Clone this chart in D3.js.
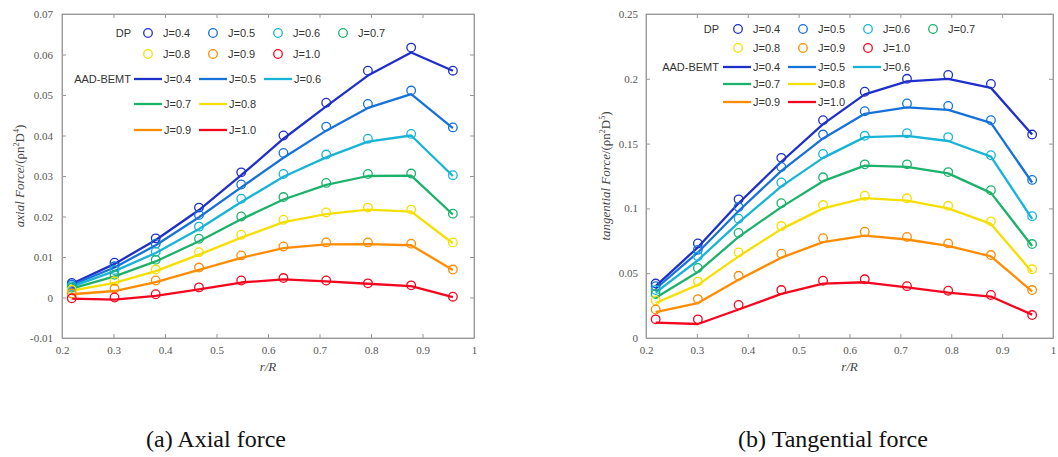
<!DOCTYPE html>
<html>
<head>
<meta charset="utf-8">
<script src="https://cdn.jsdelivr.net/npm/d3@7"></script>
<style>
  body { margin: 0; background: #fff; }
  svg text { font-family: "Liberation Serif", "Times New Roman", serif; }
  .leg text { font-family: "Liberation Sans", Arial, sans-serif; font-size: 11px; fill: #333; }
  .tick text { fill: #555; font-size: 11px; }
</style>
</head>
<body>
<div id="chart"></div>
<script>
// ---- data ----
const rR = [0.219, 0.302, 0.382, 0.466, 0.548, 0.630, 0.713, 0.794, 0.878, 0.959];
const Jlabels = ['J=0.4', 'J=0.5', 'J=0.6', 'J=0.7', 'J=0.8', 'J=0.9', 'J=1.0'];
const colors = ['#1f2fc9', '#1672d9', '#18b4d6', '#1cb26b', '#f5df00', '#ff8c00', '#f5061f'];

// axial force, DP markers
const axDP = [
  [0.0036, 0.0086, 0.0146, 0.0222, 0.0309, 0.0400, 0.0481, 0.0560, 0.0617, 0.0560],
  [0.0032, 0.0077, 0.0133, 0.0204, 0.0279, 0.0357, 0.0422, 0.0478, 0.0511, 0.0420],
  [0.0028, 0.0068, 0.0113, 0.0175, 0.0244, 0.0305, 0.0353, 0.0392, 0.0404, 0.0302],
  [0.0024, 0.0056, 0.0093, 0.0145, 0.0200, 0.0248, 0.0283, 0.0305, 0.0306, 0.0207],
  [0.0019, 0.0040, 0.0069, 0.0112, 0.0155, 0.0192, 0.0210, 0.0222, 0.0217, 0.0136],
  [0.0010, 0.0022, 0.0042, 0.0074, 0.0104, 0.0126, 0.0136, 0.0136, 0.0133, 0.0069],
  [-0.0002, 0.0000, 0.0008, 0.0025, 0.0042, 0.0048, 0.0042, 0.0035, 0.0030, 0.0002]
];
// axial force, AAD-BEMT lines
const axBEMT = [
  [0.0034, 0.0083, 0.0142, 0.0216, 0.0302, 0.0392, 0.0472, 0.0548, 0.0605, 0.0560],
  [0.0031, 0.0074, 0.0129, 0.0198, 0.0272, 0.0345, 0.0412, 0.0468, 0.0502, 0.0418],
  [0.0027, 0.0065, 0.0110, 0.0169, 0.0236, 0.0298, 0.0346, 0.0385, 0.0400, 0.0300],
  [0.0022, 0.0052, 0.0089, 0.0139, 0.0193, 0.0242, 0.0278, 0.0300, 0.0301, 0.0205],
  [0.0017, 0.0036, 0.0065, 0.0106, 0.0148, 0.0186, 0.0206, 0.0217, 0.0212, 0.0134],
  [0.0008, 0.0016, 0.0038, 0.0068, 0.0098, 0.0122, 0.0131, 0.0132, 0.0129, 0.0068],
  [-0.0003, -0.0005, 0.0004, 0.0020, 0.0037, 0.0045, 0.0040, 0.0034, 0.0028, 0.0001]
];
// tangential force, DP markers
const tgDP = [
  [0.042, 0.073, 0.107, 0.139, 0.168, 0.190, 0.200, 0.203, 0.196, 0.157],
  [0.040, 0.068, 0.101, 0.132, 0.157, 0.175, 0.181, 0.179, 0.168, 0.122],
  [0.037, 0.063, 0.092, 0.120, 0.142, 0.156, 0.158, 0.155, 0.141, 0.094],
  [0.034, 0.054, 0.081, 0.104, 0.124, 0.134, 0.134, 0.128, 0.114, 0.0725],
  [0.029, 0.0435, 0.066, 0.0864, 0.1026, 0.1098, 0.1078, 0.102, 0.090, 0.053],
  [0.022, 0.030, 0.048, 0.065, 0.077, 0.082, 0.078, 0.073, 0.064, 0.037],
  [0.0144, 0.0144, 0.0255, 0.037, 0.0442, 0.0453, 0.040, 0.0365, 0.0332, 0.0177]
];
// tangential force, AAD-BEMT lines
const tgBEMT = [
  [0.040, 0.070, 0.104, 0.136, 0.165, 0.188, 0.198, 0.200, 0.193, 0.157],
  [0.038, 0.066, 0.098, 0.129, 0.154, 0.173, 0.178, 0.176, 0.166, 0.120],
  [0.035, 0.060, 0.089, 0.117, 0.139, 0.155, 0.156, 0.152, 0.140, 0.092],
  [0.031, 0.051, 0.078, 0.101, 0.121, 0.133, 0.132, 0.127, 0.112, 0.071],
  [0.027, 0.041, 0.063, 0.084, 0.100, 0.108, 0.106, 0.100, 0.088, 0.051],
  [0.020, 0.027, 0.045, 0.062, 0.074, 0.079, 0.076, 0.071, 0.063, 0.036],
  [0.0118, 0.0108, 0.022, 0.034, 0.042, 0.043, 0.039, 0.035, 0.032, 0.018]
];

const xTicks = [0.2, 0.3, 0.4, 0.5, 0.6, 0.7, 0.8, 0.9, 1];
const xTickLabels = ['0.2', '0.3', '0.4', '0.5', '0.6', '0.7', '0.8', '0.9', '1'];
const axYTicks = [-0.01, 0, 0.01, 0.02, 0.03, 0.04, 0.05, 0.06, 0.07];
const axYTickLabels = ['-0.01', '0', '0.01', '0.02', '0.03', '0.04', '0.05', '0.06', '0.07'];
const tgYTicks = [0, 0.05, 0.1, 0.15, 0.2, 0.25];
const tgYTickLabels = ['0', '0.05', '0.1', '0.15', '0.2', '0.25'];

// legend layout: DP markers in rows of 4, AAD-BEMT lines as 3 / 2 / 2
const dpSlots = [[0, 0], [0, 1], [0, 2], [0, 3], [1, 0], [1, 1], [1, 2]];
const bemtSlots = [[2, 0], [2, 1], [2, 2], [3, 0], [3, 1], [4, 0], [4, 1]];

// SVG
var svg = d3.select('#chart')
    .append('svg')
    .attr('width', 1058)
    .attr('height', 457);

svg.append('rect').attr('width', 1058).attr('height', 457).attr('fill', '#fff');

function drawPanel(opt) {
    const g = svg.append('g');
    const xScale = d3.scaleLinear().domain([0.2, 1]).range([opt.x0, opt.x1]);
    const yScale = d3.scaleLinear().domain(opt.yDomain).range([opt.y1, opt.y0]);

    // frame
    g.append('rect')
        .attr('x', opt.x0).attr('y', opt.y0)
        .attr('width', opt.x1 - opt.x0).attr('height', opt.y1 - opt.y0)
        .attr('fill', 'none').attr('stroke', '#aaa').attr('stroke-width', 1);

    const fmtX = d => xTickLabels[xTicks.indexOf(d)];
    const fmtY = d => opt.yLabels[opt.yTicks.indexOf(d)];

    g.append('g').attr('transform', `translate(0, ${opt.y1})`)
        .call(d3.axisBottom(xScale).tickValues(xTicks).tickFormat(fmtX)
            .tickSizeInner(-4).tickSizeOuter(0).tickPadding(8));
    g.append('g').attr('transform', `translate(${opt.x0}, 0)`)
        .call(d3.axisLeft(yScale).tickValues(opt.yTicks).tickFormat(fmtY)
            .tickSizeInner(-4).tickSizeOuter(0).tickPadding(opt.yPad));
    g.append('g').attr('transform', `translate(0, ${opt.y0})`)
        .call(d3.axisTop(xScale).tickValues(xTicks).tickFormat('').tickSizeInner(-4).tickSizeOuter(0));
    g.append('g').attr('transform', `translate(${opt.x1}, 0)`)
        .call(d3.axisRight(yScale).tickValues(opt.yTicks).tickFormat('').tickSizeInner(-4).tickSizeOuter(0));
    g.selectAll('.domain').attr('stroke', '#999');
    g.selectAll('.tick line').attr('stroke', '#999');

    // lines
    const line = d3.line().x((d, i) => xScale(rR[i])).y(d => yScale(d));
    opt.bemt.forEach((s, k) => {
        g.append('path').datum(s)
            .attr('d', line)
            .attr('fill', 'none')
            .attr('stroke', colors[k])
            .attr('stroke-width', 2.3)
            .attr('stroke-linejoin', 'round');
    });
    // markers
    opt.dp.forEach((s, k) => {
        g.selectAll(null).data(s).enter().append('circle')
            .attr('cx', (d, i) => xScale(rR[i]))
            .attr('cy', d => yScale(d))
            .attr('r', 4.3)
            .attr('fill', 'none')
            .attr('stroke', colors[k])
            .attr('stroke-width', 1.3);
    });

    // axis labels
    g.append('text')
        .attr('x', (opt.x0 + opt.x1) / 2).attr('y', opt.y1 + 33)
        .attr('text-anchor', 'middle')
        .style('font-size', '13px').style('font-style', 'italic').style('fill', '#444')
        .text('r/R');

    const yl = g.append('text')
        .attr('transform', `translate(${opt.yLabelX}, ${(opt.y0 + opt.y1) / 2}) rotate(-90)`)
        .attr('text-anchor', 'middle')
        .style('font-size', '13px').style('fill', '#444');
    yl.append('tspan').style('font-style', 'italic').text(opt.yName + ' Force');
    yl.append('tspan').text('/(ρn');
    yl.append('tspan').attr('dy', -5).style('font-size', '8px').text('2');
    yl.append('tspan').attr('dy', 5).text('D');
    yl.append('tspan').attr('dy', -5).style('font-size', '8px').text(opt.pow);
    yl.append('tspan').attr('dy', 5).text(')');

    // legend
    const L = opt.leg;
    const lg = g.append('g').attr('class', 'leg');
    lg.append('text').attr('x', L.labelRight).attr('y', L.rows[0] + 4).attr('text-anchor', 'end').text('DP');
    Jlabels.forEach((lab, k) => {
        const [row, col] = dpSlots[k];
        const cx = L.markCol0 + col * L.colStep;
        lg.append('circle').attr('cx', cx).attr('cy', L.rows[row])
            .attr('r', 4.3).attr('fill', 'none').attr('stroke', colors[k]).attr('stroke-width', 1.3);
        lg.append('text').attr('x', cx + 15).attr('y', L.rows[row] + 4).text(lab);
    });
    lg.append('text').attr('x', L.labelRight).attr('y', L.rows[2] + 4).attr('text-anchor', 'end').text('AAD-BEMT');
    Jlabels.forEach((lab, k) => {
        const [row, col] = bemtSlots[k];
        const lx = L.lineCol0 + col * L.colStep;
        lg.append('line').attr('x1', lx).attr('x2', lx + 28)
            .attr('y1', L.rows[row]).attr('y2', L.rows[row])
            .attr('stroke', colors[k]).attr('stroke-width', 2.3);
        lg.append('text').attr('x', lx + 30).attr('y', L.rows[row] + 4).text(lab);
    });

    // caption
    svg.append('text')
        .attr('x', opt.capX).attr('y', 447)
        .attr('text-anchor', 'middle')
        .style('font-size', '24px').style('fill', '#111')
        .text(opt.caption);
}

drawPanel({
    x0: 62, x1: 474, y0: 14, y1: 338,
    yDomain: [-0.01, 0.07], yTicks: axYTicks, yLabels: axYTickLabels, yPad: 9,
    dp: axDP, bemt: axBEMT,
    yName: 'axial', pow: '4', yLabelX: 24,
    leg: { labelRight: 131, markCol0: 148, colStep: 65, lineCol0: 134, rows: [33, 54, 79, 104, 130] },
    caption: '(a) Axial force', capX: 216
});

drawPanel({
    x0: 646, x1: 1053, y0: 14, y1: 338,
    yDomain: [0, 0.25], yTicks: tgYTicks, yLabels: tgYTickLabels, yPad: 8,
    dp: tgDP, bemt: tgBEMT,
    yName: 'tangential', pow: '5', yLabelX: 610,
    leg: { labelRight: 719, markCol0: 738, colStep: 65, lineCol0: 723, rows: [29, 48, 67, 84, 102] },
    caption: '(b) Tangential force', capX: 833
});
</script>
</body>
</html>
